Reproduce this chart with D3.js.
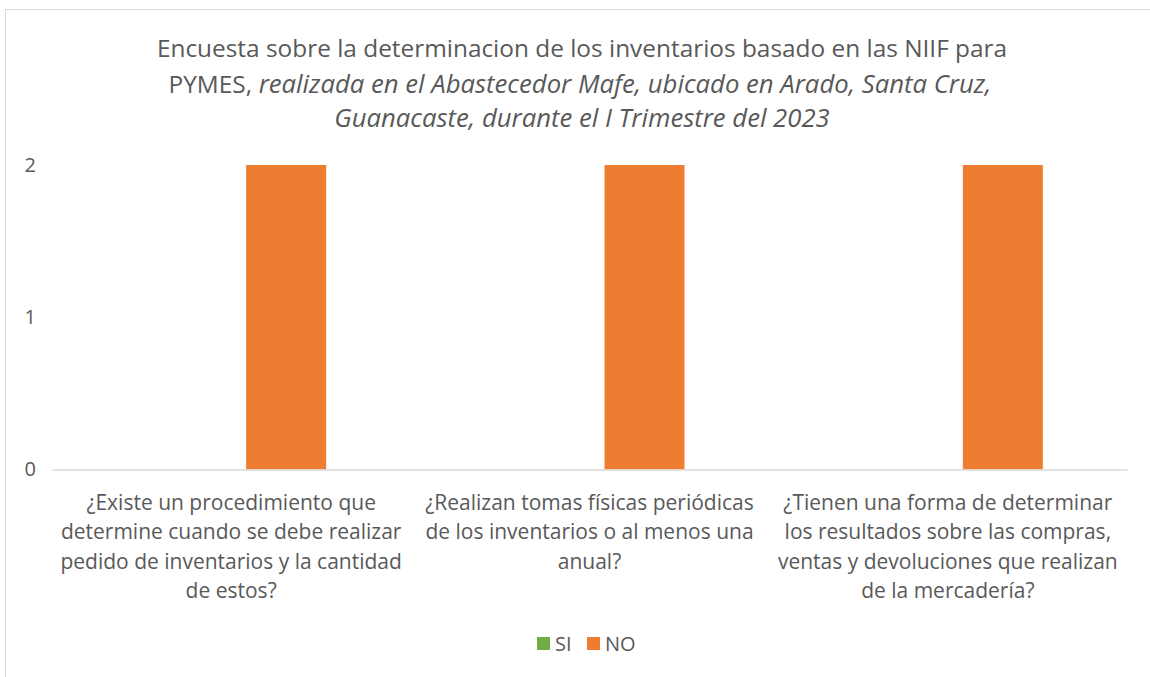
<!DOCTYPE html>
<html>
<head>
<meta charset="utf-8">
<script src="https://cdn.jsdelivr.net/npm/d3@7/dist/d3.min.js"></script>
<style>
  body { margin: 0; background: #fff; }
  svg { display: block; font-family: "Open Sans", "Noto Sans", sans-serif; }
</style>
</head>
<body>
<div id="chart"></div>
<script>
var categories = [
  ["¿Existe un procedimiento que", "determine cuando se debe realizar", "pedido de inventarios y la cantidad", "de estos?"],
  ["¿Realizan tomas físicas periódicas", "de los inventarios o al menos una", "anual?"],
  ["¿Tienen una forma de determinar", "los resultados sobre las compras,", "ventas y devoluciones que realizan", "de la mercadería?"]
];
var seriesNames = ["SI", "NO"];
var siValues = [0, 0, 0];
var noValues = [2, 2, 2];
var yTicks = [0, 1, 2];
var colors = { SI: "#70AD47", NO: "#ED7D31" };

var width = 1150, height = 677;
var textColor = "#595959";

var svg = d3.select("#chart").append("svg")
  .attr("width", width)
  .attr("height", height);

// chart area border (only top and left are visible in the crop)
svg.append("rect")
  .attr("x", 5.5).attr("y", 9.5)
  .attr("width", 1160).attr("height", 700)
  .attr("fill", "none")
  .attr("stroke", "#D9D9D9")
  .attr("stroke-width", 1);

// title
var title = svg.append("text")
  .attr("text-anchor", "middle")
  .attr("fill", textColor)
  .style("font-size", "24.4px");
title.append("tspan").attr("x", 582).attr("y", 57)
  .text("Encuesta sobre la determinacion de los inventarios basado en las NIIF para");
var l2 = title.append("tspan").attr("x", 580).attr("y", 93);
l2.append("tspan").text("PYMES,");
l2.append("tspan").style("font-style", "italic").style("font-size", "25.7px")
  .text(" realizada en el Abastecedor Mafe, ubicado en Arado, Santa Cruz,");
title.append("tspan").attr("x", 582).attr("y", 127)
  .style("font-style", "italic").style("font-size", "25.7px")
  .text("Guanacaste, durante el I Trimestre del 2023");

var data = categories.map(function(c, i) {
  return { idx: i, SI: siValues[i], NO: noValues[i] };
});

var x0 = d3.scaleBand()
  .domain(d3.range(categories.length))
  .range([52, 1127]);

var x1 = d3.scaleBand()
  .domain(seriesNames)
  .range([-110, 110])
  .paddingInner(0.2727)
  .paddingOuter(0.1364);

var y = d3.scaleLinear()
  .domain([0, 2])
  .range([469.5, 165]);

// y axis labels
var yAxis = d3.axisLeft(y)
  .tickValues(yTicks)
  .tickSize(0)
  .tickPadding(0)
  .tickFormat(d3.format("d"));

var gy = svg.append("g")
  .attr("transform", "translate(36,0)")
  .call(yAxis);
gy.select(".domain").remove();
gy.selectAll("text")
  .attr("fill", textColor)
  .style("font-size", "20px")
  .attr("font-family", "Open Sans, sans-serif");

// bars
var groups = svg.append("g").selectAll("g")
  .data(data)
  .enter().append("g")
  .attr("transform", function(d) { return "translate(" + (x0(d.idx) + x0.bandwidth() / 2) + ",0)"; });

groups.selectAll("rect")
  .data(function(d) { return seriesNames.map(function(s) { return { key: s, value: d[s] }; }); })
  .enter().append("rect")
  .attr("x", function(d) { return x1(d.key); })
  .attr("width", x1.bandwidth())
  .attr("y", function(d) { return y(d.value); })
  .attr("height", function(d) { return y(0) - y(d.value); })
  .attr("fill", function(d) { return colors[d.key]; });

// baseline
var xAxis = d3.axisBottom(x0).tickSize(0).tickFormat("");
var gx = svg.append("g")
  .attr("transform", "translate(0," + y(0) + ")")
  .call(xAxis);
gx.select(".domain").attr("stroke", "#D9D9D9").attr("stroke-width", 1.5);

// category labels
svg.append("g").selectAll("text")
  .data(categories)
  .enter().append("text")
  .attr("text-anchor", "middle")
  .attr("fill", textColor)
  .style("font-size", "21px")
  .each(function(lines, i) {
    var t = d3.select(this);
    lines.forEach(function(line, j) {
      t.append("tspan")
        .attr("x", x0(i) + x0.bandwidth() / 2)
        .attr("y", 510 + j * 29.3)
        .text(line);
    });
  });

// legend
var legend = svg.append("g").attr("transform", "translate(537,637)");
var legX = [0, 50];
seriesNames.forEach(function(s, i) {
  var g = legend.append("g").attr("transform", "translate(" + legX[i] + ",0)");
  g.append("rect").attr("width", 13).attr("height", 13).attr("fill", colors[s]);
  g.append("text").attr("x", 18).attr("y", 13.5)
    .attr("fill", textColor)
    .style("font-size", "20px")
    .text(s);
});
</script>
</body>
</html>
